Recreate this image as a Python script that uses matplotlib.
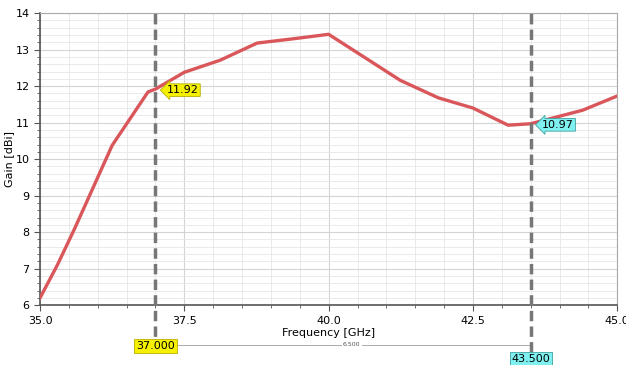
import matplotlib.pyplot as plt
from matplotlib.ticker import MultipleLocator

freq = [35.0, 35.3, 35.6, 36.25, 36.87, 37.0, 37.5, 38.12, 38.76, 39.4, 40.0,
        41.24, 41.9, 42.5, 43.11, 43.5, 44.4, 45.0]
gain = [6.2, 7.1, 8.1, 10.38, 11.84, 11.92, 12.38, 12.71, 13.18, 13.3, 13.42,
        12.16, 11.68, 11.4, 10.93, 10.97, 11.34, 11.73]

m1_x, m1_y = 37.0, 11.92
m2_x, m2_y = 43.5, 10.97

fig = plt.figure(figsize=(6.26, 3.65), dpi=100)
ax = fig.add_axes([0.064, 0.164, 0.922, 0.8])

ax.plot(freq, gain, color="#d9575a", lw=2.4, zorder=3)

ax.set_xlim(35, 45)
ax.set_ylim(6, 14)
ax.xaxis.set_major_locator(MultipleLocator(2.5))
ax.xaxis.set_minor_locator(MultipleLocator(0.5))
ax.yaxis.set_major_locator(MultipleLocator(1))
ax.yaxis.set_minor_locator(MultipleLocator(0.2))
ax.grid(which="major", color="#d4d4d4", lw=0.8)
ax.grid(which="minor", color="#e6e6e6", lw=0.6)
ax.set_axisbelow(True)
ax.tick_params(which="both", labelsize=8, color="#555555", direction="out")
ax.tick_params(which="major", length=4)
ax.tick_params(which="minor", length=2.5)
ax.xaxis.set_major_formatter(plt.FormatStrFormatter("%.1f"))
for s in ["top", "right"]:
    ax.spines[s].set_color("#aaaaaa")
for s in ["left", "bottom"]:
    ax.spines[s].set_color("#555555")
    ax.spines[s].set_linewidth(1.2)

ax.set_xlabel("Frequency [GHz]", fontsize=8, labelpad=2)
ax.set_ylabel("Gain [dBi]", fontsize=8, labelpad=1)

# markers
for mx in (m1_x, m2_x):
    ax.axvline(mx, ymin=-0.16, ymax=1, color="#777777", lw=2.5,
               ls=(0, (3, 1.5)), clip_on=False, zorder=4)

ax.annotate(f"{m1_y:.2f}", xy=(m1_x, m1_y), xytext=(m1_x + 0.2, m1_y - 0.03),
            fontsize=8, va="center", ha="left",
            bbox=dict(boxstyle="larrow,pad=0.12", fc="#f5f000", ec="#b8b000", lw=0.6),
            zorder=5)
ax.annotate(f"{m2_y:.2f}", xy=(m2_x, m2_y), xytext=(m2_x + 0.2, m2_y - 0.03),
            fontsize=8, va="center", ha="left",
            bbox=dict(boxstyle="larrow,pad=0.12", fc="#7ff0f0", ec="#40a0a0", lw=0.6),
            zorder=5)

# delta line under axis
trans = ax.get_xaxis_transform()
ax.plot([m1_x, m2_x], [-0.135, -0.135], color="#aaaaaa", lw=0.7,
        transform=trans, clip_on=False)
ax.text((m1_x + m2_x) / 2 + 0.15, -0.135, f"{m2_x - m1_x:.3f}", transform=trans,
        fontsize=4.5, ha="center", va="center", color="#555555",
        bbox=dict(fc="white", ec="none", pad=1))
ax.text(m1_x, -0.14, f"{m1_x:.3f}", transform=trans, fontsize=8,
        ha="center", va="center", zorder=6,
        bbox=dict(boxstyle="square,pad=0.15", fc="#f5f000", ec="#b8b000", lw=0.6))
ax.text(m2_x, -0.185, f"{m2_x:.3f}", transform=trans, fontsize=8,
        ha="center", va="center", zorder=6,
        bbox=dict(boxstyle="square,pad=0.15", fc="#7ff0f0", ec="#40a0a0", lw=0.6))

fig.savefig("out.png", dpi=100)
